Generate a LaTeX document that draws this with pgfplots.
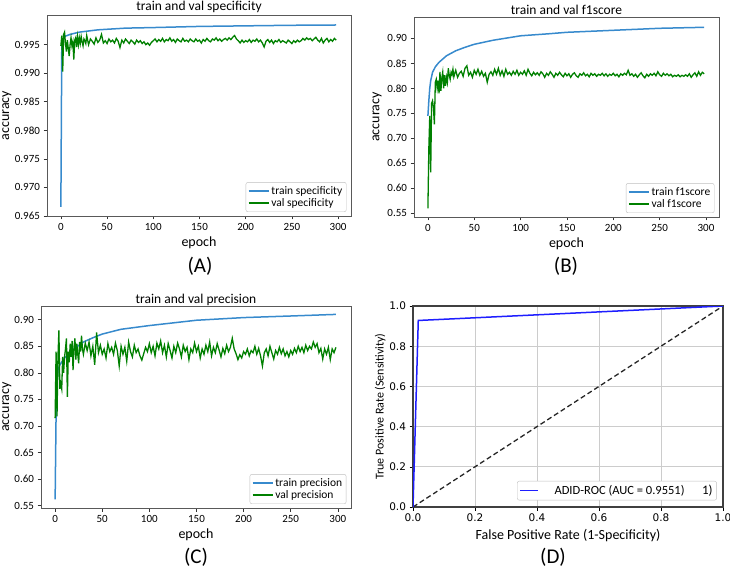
\documentclass[border=0pt]{standalone}
\usepackage{pgfplots}
\pgfplotsset{compat=1.18}
\usepackage{fontspec}
\setmainfont{Carlito}
\newfontfamily\dejavu{DejaVu Sans}
\definecolor{trainblue}{RGB}{55,138,205}
\definecolor{valgreen}{RGB}{0,128,0}
\definecolor{rocblue}{RGB}{30,30,255}
\pgfplotsset{legend image code/.code={\draw[#1, line width=1.5pt] (0pt,0pt) -- (20pt,0pt);}}
\pgfplotsset{
  mpl/.style={
    scale only axis,
    axis line style={black!65, line width=0.8pt},
    tick align=outside, tick pos=left,
    major tick length=3.5pt,
    tick style={black!80, line width=0.6pt},
    ticklabel style={font=\fontsize{11}{12}\selectfont},
    /pgf/number format/assume math mode=true,
    scaled ticks=false,
    label style={font=\fontsize{14}{16}\selectfont},
    title style={font=\fontsize{13.5}{15}\selectfont, at={(0.5,1)}, anchor=south, yshift=-3.5pt, inner sep=0pt},
    legend style={draw=black!25, rounded corners=2pt, fill=white, font=\fontsize{11.5}{13}\selectfont, cells={anchor=west}, row sep=-1.5pt, inner sep=2pt},
    xtick={0,50,100,150,200,250,300},
    xmin=-15, xmax=314,
  }
}
\begin{document}
\begin{tikzpicture}
\path[use as bounding box] (0pt,0pt) rectangle (730pt,568pt);
% (A)
\begin{axis}[mpl, at={(47pt,352pt)}, anchor=south west, width=304pt, height=201pt,
  ymin=0.965, ymax=1.0002,
  ytick={0.965,0.970,0.975,0.980,0.985,0.990,0.995},
  yticklabel style={/pgf/number format/.cd, fixed, fixed zerofill, precision=3},
  title={train and val specificity}, xlabel={epoch}, ylabel={accuracy},
  ylabel style={at={(axis description cs:-0.132,0.5)}, anchor=center},
  legend style={at={(0.985,0.02)}, anchor=south east}]
\addplot[trainblue, line width=1.5pt] coordinates {(0,0.9666)(1,0.9948)(2,0.9958)(3,0.9962)(5,0.9965)(10,0.9968)(15,0.9970)(20,0.9972)(30,0.9974)(40,0.9976)(50,0.9977)(70,0.9979)(100,0.9980)(150,0.9982)(200,0.9983)(250,0.9984)(298,0.99845)};
\addlegendentry{train specificity}
\addplot[valgreen, line width=1.3pt] coordinates {
(0,0.9948)(1,0.9966)(2,0.9903)(3,0.9968)(4,0.9972)(5,0.9952)(6,0.9938)(7,0.9958)(8,0.9944)(9,0.9930)
(10,0.9950)(11,0.9962)(12,0.9948)(13,0.9955)(14,0.9924)(15,0.9958)(16,0.9962)(17,0.9946)(18,0.9964)(19,0.9950)
(20,0.9962)(21,0.9952)(22,0.9964)(23,0.9955)(24,0.9948)(25,0.9960)(26,0.9957)(27,0.9952)(28,0.9966)(29,0.9958)
(30,0.9950)(32,0.9960)(34,0.9956)(36,0.9951)(38,0.9962)(40,0.9954)(42,0.9958)(44,0.9968)(46,0.9953)(48,0.9957)
(50,0.9952)(52,0.9960)(54,0.9955)(56,0.9958)(58,0.9953)(60,0.9961)(62,0.9956)(64,0.9945)(66,0.9958)(68,0.9953)
(70,0.9960)(72,0.9956)(74,0.9952)(76,0.9958)(78,0.9955)(80,0.9951)(82,0.9958)(84,0.9954)(86,0.9957)(88,0.9952)
(90,0.9955)(92,0.9950)(94,0.9953)(96,0.9949)(98,0.9954)(100,0.9957)(102,0.9960)(104,0.9955)(106,0.9959)(108,0.9956)
(110,0.9961)(112,0.9955)(114,0.9959)(116,0.9957)(118,0.9962)(120,0.9956)(122,0.9959)(124,0.9954)(126,0.9960)(128,0.9957)
(130,0.9955)(132,0.9961)(134,0.9956)(136,0.9958)(138,0.9955)(140,0.9960)(142,0.9957)(144,0.9955)(146,0.9960)(148,0.9956)
(150,0.9958)(152,0.9953)(154,0.9959)(156,0.9956)(158,0.9961)(160,0.9957)(162,0.9955)(164,0.9960)(166,0.9958)(168,0.9962)
(170,0.9957)(172,0.9960)(174,0.9956)(176,0.9959)(178,0.9961)(180,0.9958)(182,0.9962)(184,0.9959)(186,0.9963)(188,0.9966)
(190,0.9960)(192,0.9957)(194,0.9953)(196,0.9958)(198,0.9954)(200,0.9957)(202,0.9955)(204,0.9959)(206,0.9954)(208,0.9958)
(210,0.9956)(212,0.9960)(214,0.9955)(216,0.9958)(218,0.9953)(220,0.9946)(222,0.9956)(224,0.9959)(226,0.9954)(228,0.9958)
(230,0.9952)(232,0.9957)(234,0.9955)(236,0.9959)(238,0.9954)(240,0.9957)(242,0.9955)(244,0.9953)(246,0.9958)(248,0.9955)
(250,0.9952)(252,0.9957)(254,0.9954)(256,0.9958)(258,0.9955)(260,0.9957)(262,0.9961)(264,0.9958)(266,0.9962)(268,0.9959)
(270,0.9961)(272,0.9957)(274,0.9960)(276,0.9963)(278,0.9958)(280,0.9955)(282,0.9961)(284,0.9953)(286,0.9958)(288,0.9961)
(290,0.9955)(292,0.9959)(294,0.9956)(296,0.9961)(298,0.9958)};
\addlegendentry{val specificity}
\end{axis}
% (B)
\begin{axis}[mpl, at={(414pt,351pt)}, anchor=south west, width=305pt, height=200pt,
  ymin=0.5426, ymax=0.9426,
  ytick={0.55,0.60,0.65,0.70,0.75,0.80,0.85,0.90},
  yticklabel style={/pgf/number format/.cd, fixed, fixed zerofill, precision=2},
  title={train and val f1score}, xlabel={epoch}, ylabel={accuracy},
  ylabel style={at={(axis description cs:-0.121,0.5)}, anchor=center},
  legend style={at={(0.985,0.02)}, anchor=south east}]
\addplot[trainblue, line width=1.5pt] coordinates {(0,0.745)(1,0.775)(2,0.80)(3,0.815)(5,0.832)(8,0.843)(12,0.852)(20,0.865)(30,0.875)(40,0.882)(50,0.888)(70,0.896)(100,0.905)(130,0.909)(150,0.912)(200,0.916)(250,0.920)(298,0.922)};
\addlegendentry{train f1score}
\addplot[valgreen, line width=1.3pt] coordinates {
(0,0.560)(1,0.680)(2,0.745)(3,0.632)(4,0.770)(5,0.775)(6,0.760)(7,0.728)(8,0.812)(9,0.818)
(10,0.800)(11,0.815)(12,0.790)(13,0.833)(14,0.795)(15,0.820)(16,0.832)(17,0.800)(18,0.826)(19,0.805)
(20,0.822)(21,0.812)(22,0.840)(23,0.826)(24,0.818)(25,0.832)(26,0.827)(27,0.838)(28,0.823)(29,0.830)
(30,0.836)(32,0.822)(34,0.830)(36,0.834)(38,0.824)(40,0.840)(42,0.845)(44,0.826)(46,0.832)(48,0.822)
(50,0.836)(52,0.828)(54,0.838)(56,0.826)(58,0.834)(60,0.824)(62,0.830)(64,0.812)(66,0.828)(68,0.833)
(70,0.826)(72,0.838)(74,0.828)(76,0.840)(78,0.826)(80,0.835)(82,0.824)(84,0.838)(86,0.828)(88,0.832)
(90,0.826)(92,0.834)(94,0.828)(96,0.836)(98,0.826)(100,0.832)(102,0.828)(104,0.835)(106,0.826)(108,0.838)
(110,0.830)(112,0.825)(114,0.832)(116,0.827)(118,0.831)(120,0.826)(122,0.833)(124,0.829)(126,0.822)(128,0.830)
(130,0.826)(132,0.833)(134,0.828)(136,0.822)(138,0.830)(140,0.826)(142,0.832)(144,0.827)(146,0.823)(148,0.830)
(150,0.825)(152,0.829)(154,0.822)(156,0.828)(158,0.831)(160,0.825)(162,0.822)(164,0.829)(166,0.826)(168,0.831)
(170,0.825)(172,0.828)(174,0.823)(176,0.830)(178,0.826)(180,0.829)(182,0.824)(184,0.828)(186,0.826)(188,0.830)
(190,0.825)(192,0.829)(194,0.824)(196,0.828)(198,0.826)(200,0.830)(202,0.825)(204,0.828)(206,0.823)(208,0.829)
(210,0.826)(212,0.830)(214,0.827)(216,0.836)(218,0.826)(220,0.829)(222,0.824)(224,0.828)(226,0.822)(228,0.827)
(230,0.831)(232,0.825)(234,0.821)(236,0.828)(238,0.824)(240,0.829)(242,0.826)(244,0.830)(246,0.825)(248,0.833)
(250,0.827)(252,0.824)(254,0.830)(256,0.826)(258,0.829)(260,0.825)(262,0.828)(264,0.823)(266,0.826)(268,0.824)
(270,0.827)(272,0.823)(274,0.826)(276,0.824)(278,0.827)(280,0.824)(282,0.829)(284,0.822)(286,0.827)(288,0.831)
(290,0.824)(292,0.833)(294,0.826)(296,0.832)(298,0.829)};
\addlegendentry{val f1score}
\end{axis}
% (C)
\begin{axis}[mpl, at={(41pt,60pt)}, anchor=south west, width=310pt, height=202pt,
  ymin=0.5457, ymax=0.9258,
  ytick={0.55,0.60,0.65,0.70,0.75,0.80,0.85,0.90},
  yticklabel style={/pgf/number format/.cd, fixed, fixed zerofill, precision=2},
  title={train and val precision}, xlabel={epoch}, ylabel={accuracy},
  ylabel style={at={(axis description cs:-0.11,0.5)}, anchor=center},
  title style={yshift=-2pt},
  legend style={at={(0.985,0.02)}, anchor=south east}]
\addplot[trainblue, line width=1.5pt] coordinates {(0,0.562)(1,0.72)(2,0.78)(3,0.805)(5,0.815)(10,0.828)(20,0.845)(30,0.858)(40,0.866)(50,0.873)(70,0.882)(100,0.889)(130,0.895)(150,0.899)(200,0.904)(250,0.907)(298,0.910)};
\addlegendentry{train precision}
\addplot[valgreen, line width=1.3pt] coordinates {
(0,0.715)(1,0.840)(2,0.718)(3,0.830)(4,0.880)(5,0.770)(6,0.780)(7,0.770)(8,0.830)(9,0.800)
(10,0.830)(11,0.845)(12,0.865)(13,0.755)(14,0.840)(15,0.820)(16,0.855)(17,0.830)(18,0.860)(19,0.805)
(20,0.848)(21,0.865)(22,0.825)(23,0.855)(24,0.835)(25,0.818)(26,0.858)(27,0.840)(28,0.870)(29,0.845)
(30,0.835)(32,0.856)(34,0.842)(36,0.858)(38,0.832)(40,0.850)(42,0.815)(44,0.876)(46,0.838)(48,0.852)
(50,0.835)(52,0.845)(54,0.828)(56,0.855)(58,0.840)(60,0.848)(62,0.835)(64,0.856)(66,0.842)(68,0.813)
(70,0.850)(72,0.835)(74,0.848)(76,0.822)(78,0.858)(80,0.840)(82,0.830)(84,0.852)(86,0.838)(88,0.845)
(90,0.832)(92,0.824)(94,0.836)(96,0.848)(98,0.840)(100,0.855)(102,0.838)(104,0.850)(106,0.832)(108,0.856)
(110,0.845)(112,0.860)(114,0.838)(116,0.852)(118,0.830)(120,0.855)(122,0.842)(124,0.828)(126,0.850)(128,0.838)
(130,0.856)(132,0.845)(134,0.830)(136,0.852)(138,0.840)(140,0.848)(142,0.825)(144,0.845)(146,0.838)(148,0.856)
(150,0.840)(152,0.850)(154,0.828)(156,0.845)(158,0.835)(160,0.852)(162,0.840)(164,0.858)(166,0.832)(168,0.848)
(170,0.838)(172,0.855)(174,0.843)(176,0.830)(178,0.846)(180,0.836)(182,0.852)(184,0.840)(186,0.848)(188,0.865)
(190,0.845)(192,0.836)(194,0.825)(196,0.834)(198,0.828)(200,0.840)(202,0.835)(204,0.845)(206,0.832)(208,0.842)
(210,0.838)(212,0.850)(214,0.835)(216,0.846)(218,0.832)(220,0.813)(222,0.838)(224,0.845)(226,0.832)(228,0.850)
(230,0.838)(232,0.826)(234,0.842)(236,0.835)(238,0.848)(240,0.836)(242,0.845)(244,0.832)(246,0.840)(248,0.830)
(250,0.842)(252,0.835)(254,0.846)(256,0.838)(258,0.850)(260,0.840)(262,0.848)(264,0.838)(266,0.852)(268,0.842)
(270,0.850)(272,0.845)(274,0.858)(276,0.848)(278,0.855)(280,0.838)(282,0.846)(284,0.826)(286,0.845)(288,0.835)
(290,0.848)(292,0.825)(294,0.845)(296,0.838)(298,0.848)};
\addlegendentry{val precision}
\end{axis}
% (D)
\begin{axis}[scale only axis, at={(413pt,61pt)}, anchor=south west, width=310pt, height=201pt,
  xmin=0, xmax=1, ymin=0, ymax=1,
  axis line style={black!75, line width=1.1pt},
  tick align=outside, tick pos=left, major tick length=3.5pt,
  tick style={black, line width=0.6pt},
  xtick={0,0.2,0.4,0.6,0.8,1}, ytick={0,0.2,0.4,0.6,0.8,1},
  ticklabel style={font=\dejavu\fontsize{10.5}{12}\selectfont},
  /pgf/number format/assume math mode=true,
  xticklabel style={/pgf/number format/.cd, fixed, fixed zerofill, precision=1},
  yticklabel style={/pgf/number format/.cd, fixed, fixed zerofill, precision=1},
  grid=major, grid style={black!20, line width=0.9pt},
  xlabel={False Positive Rate (1-Specificity)},
  ylabel={True Positive Rate (Sensitivity)},
  xlabel style={font=\fontsize{14}{16}\selectfont},
  ylabel style={font=\fontsize{12}{14}\selectfont, at={(axis description cs:-0.106,0.5)}, anchor=center},
  legend style={at={(0.98,0.033)}, anchor=south east, draw=black!25, rounded corners=2pt, fill=white, font=\fontsize{12.5}{14}\selectfont, inner sep=2pt},
  legend image code/.code={\draw[#1, line width=1.5pt] (2pt,0pt) -- (20pt,0pt);}]
\addplot[black!85, dash pattern=on 5pt off 3pt, line width=1.3pt, forget plot] coordinates {(0,0)(1,1)};
\addplot[rocblue, line width=1.5pt] coordinates {(0,0)(0.017,0.928)(1,1)};
\addlegendentry{\hspace{1.1em}ADID-ROC (AUC = 0.9551)\hspace{1.4em}{\fontsize{13}{14}\selectfont 1)}\hspace{0.2em}}
\end{axis}
\node[font=\fontsize{21}{24}\selectfont] at (200pt,302pt) {(A)};
\node[font=\fontsize{21}{24}\selectfont] at (566pt,302pt) {(B)};
\node[font=\fontsize{21}{24}\selectfont] at (196pt,11pt) {(C)};
\node[font=\fontsize{21}{24}\selectfont] at (553pt,11pt) {(D)};
\end{tikzpicture}
\end{document}
